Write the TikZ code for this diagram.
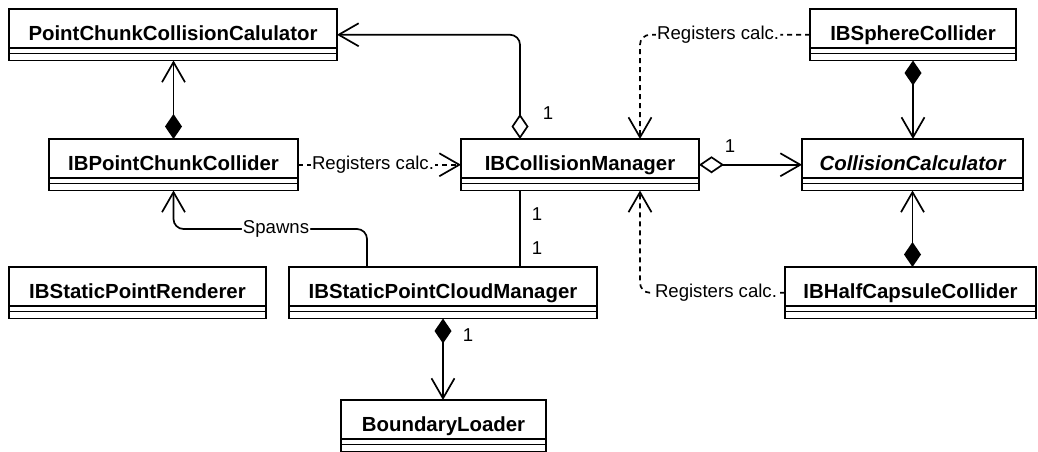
\documentclass[tikz,border=0pt]{standalone}
\usepackage{fontspec}
\setmainfont{Liberation Sans}
\usetikzlibrary{arrows.meta,calc}
\tikzset{
  clsbox/.style={draw, line width=1.8pt, inner sep=0pt, outer sep=0pt, rectangle, minimum height=51.5pt},
  clsname/.style={font=\bfseries\fontsize{20.4}{21}\selectfont, inner sep=0pt, anchor=base},
  lbl/.style={font=\fontsize{18.6}{19}\selectfont, inner sep=1.2pt},
  conn/.style={line width=1.7pt},
  dep/.style={conn, dash pattern=on 5pt off 4pt},
  barb/.tip={Straight Barb[length=20pt,width=23pt]},
  fdia/.tip={Diamond[length=25pt,width=17pt]},
  hdia/.tip={Diamond[length=25pt,width=17pt,fill=white]},
}
\newcommand\umlclass[5]{%
  \node[clsbox, minimum width=#4pt, anchor=north west] (#1) at (#2,#3) {};
  \node[clsname] (#1-t) at ($(#1.north)+(0pt,-31.5pt)$) {#5};
  \draw[line width=1.8pt] ($(#1.north west)+(0pt,-38.7pt)$) -- ($(#1.north east)+(0pt,-38.7pt)$);
  \draw[line width=1.8pt] ($(#1.north west)+(0pt,-44.5pt)$) -- ($(#1.north east)+(0pt,-44.5pt)$);
}
\begin{document}
\begin{tikzpicture}[x=1pt,y=-1pt]
\useasboundingbox (0,0) rectangle (1038,451);
\umlclass{pccc}{9}{9}{328}{PointChunkCollisionCalulator}
\umlclass{ibpcc}{49}{139}{249}{IBPointChunkCollider}
\umlclass{ibcm}{461}{139}{238}{IBCollisionManager}
\umlclass{cc}{802}{139}{221}{\itshape CollisionCalculator}
\umlclass{ibsc}{810}{9}{206}{IBSphereCollider}
\umlclass{ibspr}{9}{267}{257}{IBStaticPointRenderer}
\umlclass{ibspcm}{289}{267}{308}{IBStaticPointCloudManager}
\umlclass{bl}{341}{400}{205}{BoundaryLoader}
\umlclass{ibhcc}{785}{267}{251}{IBHalfCapsuleCollider}

% 1: IBCollisionManager o-> PointChunkCollisionCalulator
\draw[conn, hdia-barb, rounded corners=10pt] ($(ibcm.north west)+(59pt,0pt)$) |- (pccc.east);
\node[lbl] (m1) at (548,113) {1};
% 2: IBPointChunkCollider *-> PointChunkCollisionCalulator
\draw[conn, fdia-barb] (ibpcc.north) -- (ibpcc.north |- pccc.south);
% 3: dependency
\draw[dep, -barb] (ibpcc.east) -- node[lbl, fill=white, pos=0.46] (r1) {Registers calc.} (ibcm.west);
% 4: IBSphereCollider registers
\draw[dep, -barb, rounded corners=10pt] (ibsc.west) -| node[lbl, fill=white, pos=0.27] (r2) {Registers calc.} ($(ibcm.north west)+(179pt,0pt)$);
% 5: IBHalfCapsuleCollider registers
\draw[dep, -barb, rounded corners=10pt] (ibhcc.west) -| node[lbl, fill=white, pos=0.238] (r3) {Registers calc.} ($(ibcm.south west)+(179pt,0pt)$);
% 6: IBCollisionManager o-> CollisionCalculator
\draw[conn, hdia-barb] (ibcm.east) -- (cc.west);
\node[lbl] (m2) at (730,146) {1};
% 7: IBSphereCollider *-> CollisionCalculator
\draw[conn, fdia-barb] (ibsc.south) -- (ibsc.south |- cc.north);
% 8: IBHalfCapsuleCollider *-> CollisionCalculator
\draw[conn, fdia-barb] (cc.south |- ibhcc.north) -- (cc.south);
% 9: Spawns
\draw[conn, -barb, rounded corners=10pt] ($(ibspcm.north west)+(78pt,0pt)$) |- node[lbl, fill=white, pos=0.735] (sp) {Spawns} (ibpcc.south |- 0,229) -- (ibpcc.south);
% 10: association
\draw[conn] ($(ibcm.south west)+(59pt,0pt)$) -- ($(ibspcm.north west)+(231pt,0pt)$);
\node[lbl] (m3) at (537,214) {1};
\node[lbl] (m4) at (537,248) {1};
% 11: IBStaticPointCloudManager *-> BoundaryLoader
\draw[conn, fdia-barb] (ibspcm.south) -- (ibspcm.south |- bl.north);
\node[lbl] (m5) at (468,335) {1};
\end{tikzpicture}
\end{document}
